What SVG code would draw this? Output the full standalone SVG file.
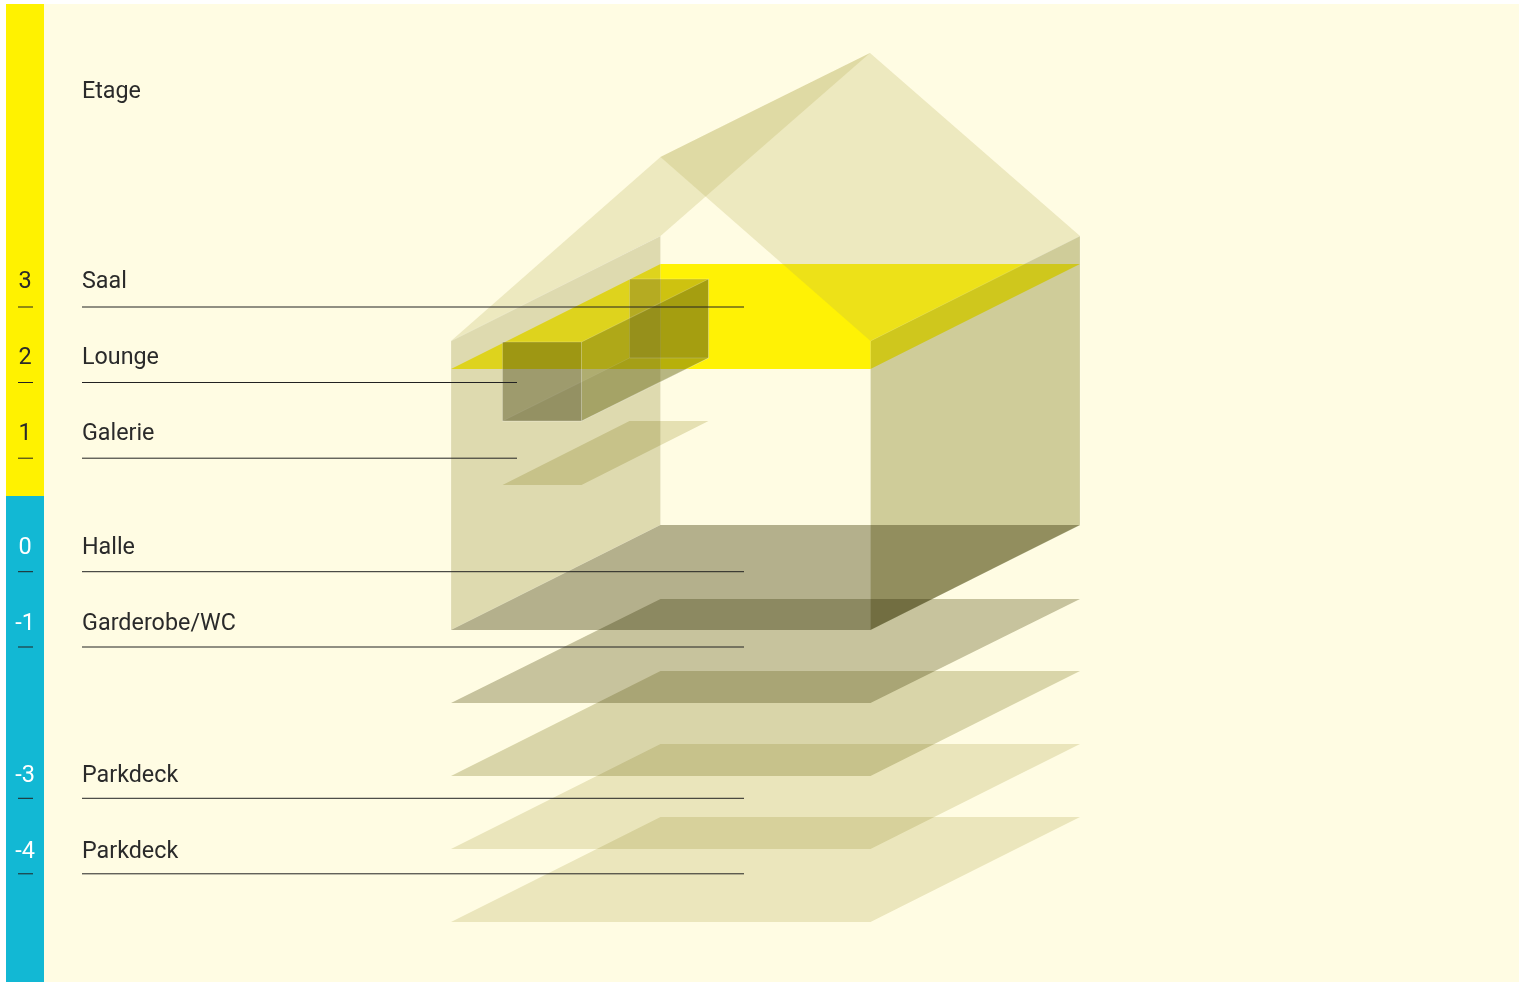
<svg xmlns="http://www.w3.org/2000/svg" width="1523" height="982" viewBox="0 0 1523 982">
<style>
.m{mix-blend-mode:multiply}
.wl{fill:#9E984C;fill-opacity:.34}.wr{fill:#93903E;fill-opacity:.443}.r{fill:#B7B054;fill-opacity:.25}
.e{stroke:#fff;stroke-opacity:.18;stroke-width:1}
.t{font-family:Roboto,"Noto Sans",sans-serif;font-size:23.300px;fill:#2a2a2a}
.n{font-family:Roboto,"Noto Sans",sans-serif;font-size:23.500px;text-anchor:middle}
.l{stroke:#222;stroke-width:1;fill:none}
.f{stroke:#fff;stroke-opacity:.2;stroke-width:1}
</style>
<rect width="1523" height="982" fill="#fff"/>
<rect id="background" x="6" y="4" width="1513" height="978" fill="#FFFCE3"/>
<rect id="bar-upper" x="6" y="4" width="38" height="492" fill="#FFF200"/>
<rect id="bar-lower" x="6" y="496" width="38" height="486" fill="#12B8D4"/>
<g id="house">
<polygon id="floor-2" fill="#FFF205" points="451,369 660.500,264 1080,264 870.500,369"/>
<polygon class="r" points="451,341 660.500,157 870,53 660.500,236"/>
<polygon class="r" points="660.500,157 870,53 1080,236 870.500,341"/>
<polygon class="wl e" points="451,341 660.500,236 660.500,525 451,630"/>
<polygon class="wr e" points="870.500,341 1080,236 1080,525 870.500,630"/>
<polygon id="floor-1" class="m" fill="#E5E3C8" points="502.500,485 581.500,485 708.500,421 629.500,421"/>
<polygon id="floor-0" class="m" fill="#B4B29D" points="451,630 660.500,525 1080,525 870.500,630"/>
<polygon id="floor-m1" class="m" fill="#C7C6B0" points="451,703 660.500,599 1080,599 870.500,703"/>
<polygon id="floor-m2" class="m" fill="#D9D8BE" points="451,776 660.500,671 1080,671 870.500,776"/>
<polygon id="floor-m3" class="m" fill="#EAE8D2" points="451,849 660.500,744 1080,744 870.500,849"/>
<polygon id="floor-m4" class="m" fill="#EBE9D3" points="451,922 660.500,817 1080,817 870.500,922"/>
</g>
<g id="lounge-box">
<polygon class="f" fill="#3C3232" fill-opacity=".25" points="629.500,279 708.500,279 708.500,358 629.500,358"/>
<polygon class="f" fill="#40460C" fill-opacity=".1" points="502.500,421 581.500,421 708.500,358 629.500,358"/>
<polygon class="f" fill="#686911" fill-opacity=".4" points="581.500,342 708.500,279 708.500,358 581.500,421"/>
<polygon class="f" fill="#383403" fill-opacity=".38" points="502.500,342 581.500,342 581.500,421 502.500,421"/>
</g>
<g id="connectors">
<path class="l" d="M82 307H744M18 307H33M82 382.500H517M18 382.500H33M82 458.200H517M18 458.200H33M82 571.700H744M18 571.700H33M82 647H744M18 647H33M82 798.300H744M18 798.300H33M82 873.800H744M18 873.800H33"/>
</g>
<g id="labels">
<text class="t" x="82" y="97.500">Etage</text>
<text class="t" x="82" y="288">Saal</text>
<text class="t" x="82" y="364">Lounge</text>
<text class="t" x="82" y="440">Galerie</text>
<text class="t" x="82" y="553.500">Halle</text>
<text class="t" x="82" y="630" textLength="154">Garderobe/WC</text>
<text class="t" x="82" y="781.700">Parkdeck</text>
<text class="t" x="82" y="857.700">Parkdeck</text>
<g fill="#2a2a2a"><text class="n" x="25" y="288">3</text><text class="n" x="25" y="364">2</text><text class="n" x="25" y="440">1</text></g>
<g fill="#fff"><text class="n" x="25" y="553.500">0</text><text class="n" x="25" y="630">-1</text><text class="n" x="25" y="781.700">-3</text><text class="n" x="25" y="857.700">-4</text></g>
</g>
</svg>
